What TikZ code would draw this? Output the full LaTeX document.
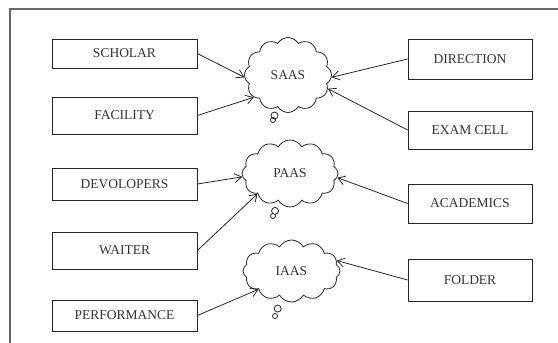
\documentclass[tikz,border=0pt]{standalone}
\usepackage{fontspec}
\setmainfont{Liberation Serif}
\usetikzlibrary{shapes.callouts,shapes.symbols,arrows.meta}
\begin{document}
\begin{tikzpicture}[x=1pt,y=-1pt,
  every node/.style={text=black!80},
  boxbase/.style={draw=black!85,line width=0.8pt,inner sep=0pt,font=\fontsize{13.5}{15}\selectfont},
  lbox/.style={boxbase,minimum width=145pt},
  rbox/.style={boxbase,minimum width=124pt},
  cloudnode/.style={cloud callout,draw=black!85,line width=0.8pt,cloud puffs=12,cloud puff arc=120,
     inner sep=0pt,callout pointer segments=2,callout pointer start size=9pt and 9pt,callout pointer end size=5pt and 5pt,
     font=\fontsize{13.5}{15}\selectfont},
  link/.style={draw=black!85,line width=0.8pt,-{Straight Barb[length=7pt,width=9pt]}}]
\useasboundingbox (0,0) rectangle (558,343);
\draw[black!60,line width=1.3pt] (10,343) -- (10,9) -- (558,9);

\node[cloudnode,minimum width=87pt,minimum height=75pt,callout absolute pointer={(273,120)}] (saas) at (288,75) {SAAS};
\node[cloudnode,minimum width=96pt,minimum height=67pt,callout absolute pointer={(273,216)}] (paas) at (290,173.5) {PAAS};
\node[cloudnode,minimum width=97pt,minimum height=62pt,callout absolute pointer={(275,316)}] (iaas) at (291.5,271) {IAAS};

\node[lbox,minimum height=29pt] (scholar) at (124.5,53.5) {SCHOLAR};
\node[lbox,minimum height=37pt] (facility) at (124.5,115.5) {FACILITY};
\node[lbox,minimum height=32pt] (devolopers) at (124.5,184) {DEVOLOPERS};
\node[lbox,minimum height=37pt] (waiter) at (124.5,250.5) {WAITER};
\node[lbox,minimum height=31pt] (performance) at (124.5,315.5) {PERFORMANCE};

\node[rbox,minimum height=40pt] (direction) at (470,59) {DIRECTION};
\node[rbox,minimum height=38pt] (examcell) at (470,130) {EXAM CELL};
\node[rbox,minimum height=39pt] (academics) at (470,203.5) {ACADEMICS};
\node[rbox,minimum height=42pt] (folder) at (470,280) {FOLDER};

\draw[link] (scholar.east) -- (saas.183);
\draw[link] (facility.east) -- (saas.213);
\draw[link] (direction.west) -- (saas.357);
\draw[link] (examcell.west) -- (saas.341);
\draw[link] (devolopers.east) -- (paas.184);
\draw[link] (waiter.east) -- (paas.212);
\draw[link] (academics.west) -- (paas.355);
\draw[link] (performance.east) -- (iaas.209);
\draw[link] (folder.west) -- (iaas.13);
\end{tikzpicture}
\end{document}
